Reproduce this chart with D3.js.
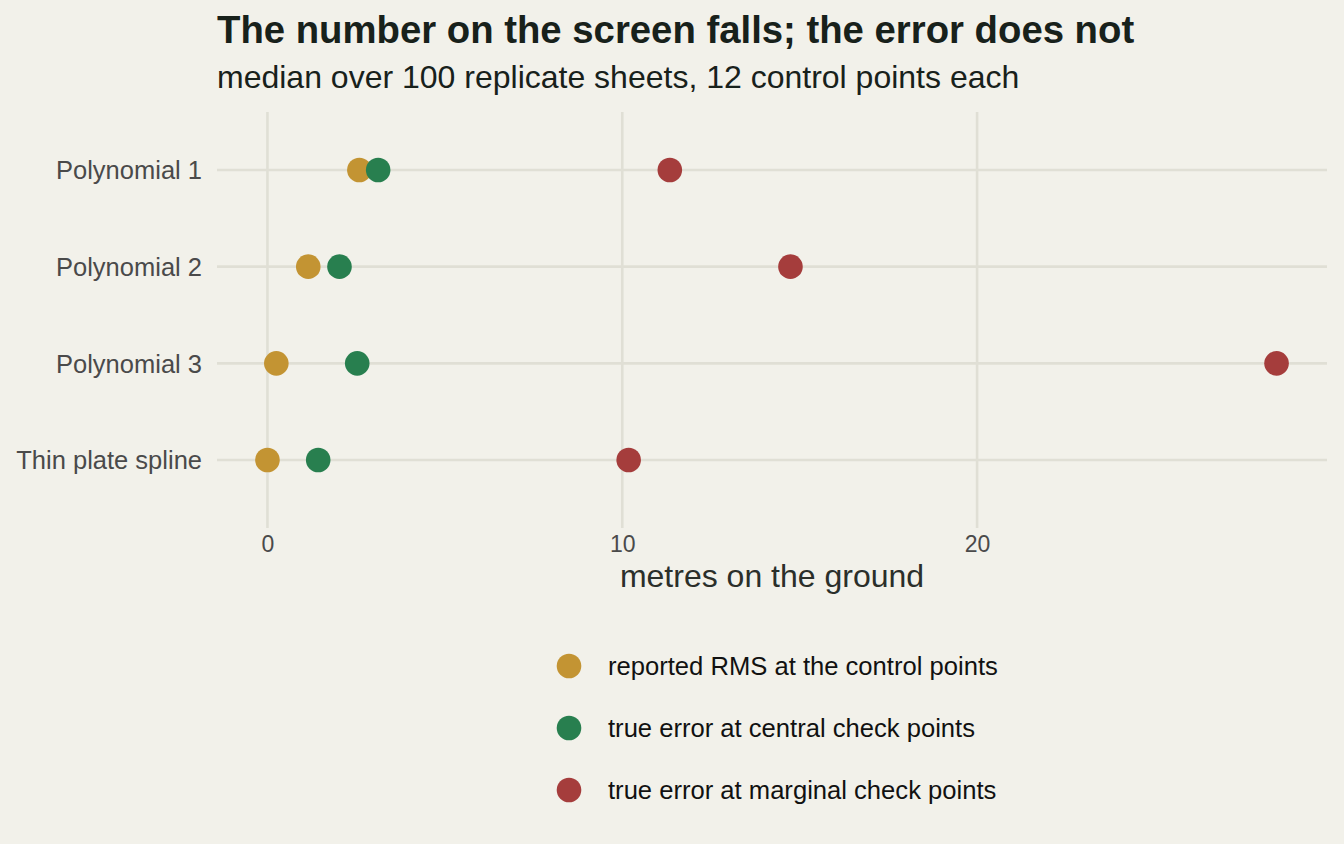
<!DOCTYPE html>
<html><head><meta charset="utf-8">
<script src="https://cdn.jsdelivr.net/npm/d3@7"></script>
<style>
html,body{margin:0;padding:0;background:#f2f1ea;}
svg{display:block;font-family:"Liberation Sans",Arial,Helvetica,sans-serif;}
</style></head>
<body><svg id="chart" width="1344" height="844"></svg>
<script>
const methods = ["Polynomial 1","Polynomial 2","Polynomial 3","Thin plate spline"];
const seriesNames = ["reported RMS at the control points","true error at central check points","true error at marginal check points"];
const seriesColors = ["#c39433","#287f4f","#a53d3c"];
const reportedRMS = [2.59, 1.15, 0.25, 0.0];
const centralError = [3.12, 2.03, 2.53, 1.43];
const marginalError = [11.34, 14.74, 28.44, 10.18];
const xTicks = [0, 10, 20];

const series = [reportedRMS, centralError, marginalError];
const svg = d3.select("#chart");
svg.append("rect").attr("width",1344).attr("height",844).attr("fill","#f2f1ea");

const panel = {left:217, right:1327, top:122, bottom:510};
const all = series.flat();
const mn = d3.min(all), mx = d3.max(all), pad = (mx-mn)*0.05;
const x = d3.scaleLinear().domain([mn-pad, mx+pad]).range([panel.left, panel.right]);
const y = d3.scalePoint().domain(methods).range([170, 460]);

const grid = "#e0dfd5";
const g = svg.append("g");
g.selectAll("line.vg").data(xTicks).join("line")
  .attr("x1",d=>x(d)).attr("x2",d=>x(d)).attr("y1",panel.top-10).attr("y2",panel.bottom+18)
  .attr("stroke",grid).attr("stroke-width",2.6);
g.selectAll("line.hg").data(methods).join("line")
  .attr("x1",panel.left).attr("x2",panel.right).attr("y1",d=>y(d)).attr("y2",d=>y(d))
  .attr("stroke",grid).attr("stroke-width",2.6);

const xAxis = d3.axisBottom(x).tickValues(xTicks).tickSize(0).tickPadding(0);
const xa = svg.append("g").attr("transform",`translate(0,${panel.bottom+42})`).call(xAxis);
xa.select(".domain").remove();
xa.selectAll("text").attr("font-size",23).attr("fill","#4a4a4a").attr("font-family","Liberation Sans, Arial, sans-serif").attr("dy",0);

const yAxis = d3.axisLeft(y).tickSize(0).tickPadding(0);
const ya = svg.append("g").attr("transform",`translate(${panel.left-15},0)`).call(yAxis);
ya.select(".domain").remove();
ya.selectAll("text").attr("font-size",25.5).attr("fill","#4a4a4a").attr("font-family","Liberation Sans, Arial, sans-serif").attr("dy","0.35em");

series.forEach((vals,si)=>{
  svg.append("g").selectAll("circle").data(methods).join("circle")
    .attr("cx",(d,i)=>x(vals[i])).attr("cy",d=>y(d)).attr("r",12.3)
    .attr("fill",seriesColors[si]);
});

svg.append("text").attr("x",(panel.left+panel.right)/2).attr("y",587).attr("text-anchor","middle")
  .attr("font-size",32).attr("fill","#2b2f2a").text("metres on the ground");

svg.append("text").attr("x",217).attr("y",43).attr("font-size",38.3).attr("font-weight","bold")
  .attr("fill","#18211b").text("The number on the screen falls; the error does not");
svg.append("text").attr("x",217).attr("y",88).attr("font-size",32)
  .attr("fill","#18211b").text("median over 100 replicate sheets, 12 control points each");

const lg = svg.append("g");
seriesNames.forEach((s,i)=>{
  const cy = 666 + i*62;
  lg.append("circle").attr("cx",569).attr("cy",cy).attr("r",12.3).attr("fill",seriesColors[i]);
  lg.append("text").attr("x",608).attr("y",cy).attr("dy","0.35em").attr("font-size",25.6)
    .attr("fill","#111").text(s);
});
</script></body></html>
